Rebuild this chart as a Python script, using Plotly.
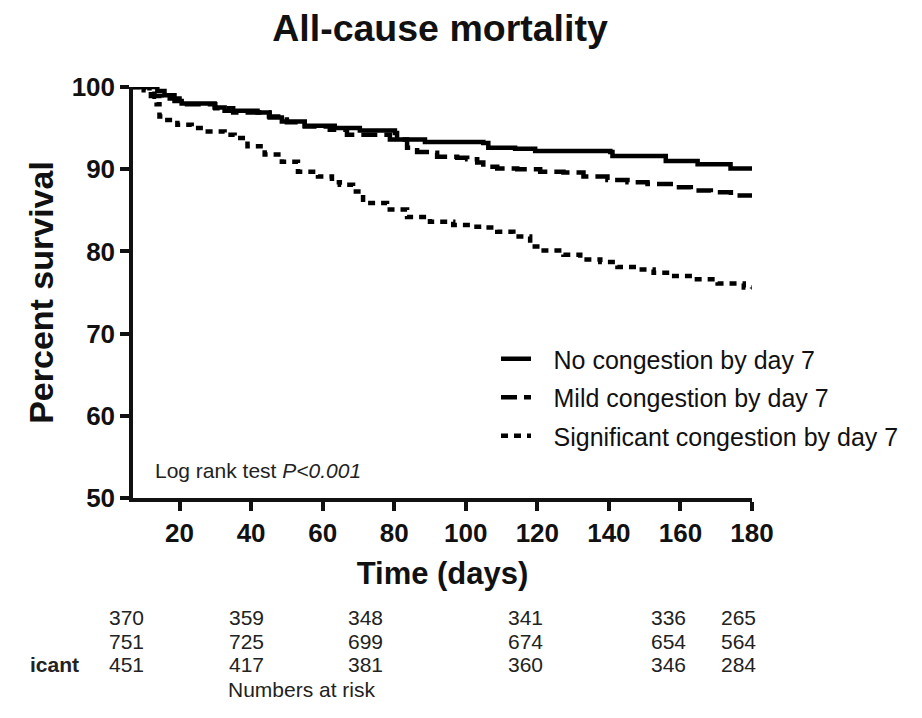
import plotly.graph_objects as go

# ---- data ----
days_none = [7, 11.6, 13.8, 15.8, 18.6, 20.6, 29.8, 32.6, 41.8, 45.2, 48.6, 55, 63.4, 70.4, 80.2,
             80.8, 88.6, 104.9, 106.3, 113.8, 119.4, 140.4, 141, 155.9, 164.8, 174, 180]
surv_none = [100, 100, 99.5, 99.0, 98.3, 98.0, 97.5, 97.1, 96.9, 96.3, 95.8, 95.3, 95.0, 94.7, 94.4,
             93.6, 93.3, 93.2, 92.6, 92.5, 92.2, 92.1, 91.6, 91.0, 90.6, 90.1, 90.0]

days_mild = [7, 10, 12, 15, 20, 30, 35, 45, 50, 55, 62, 66.8, 71.3, 78.8, 83.6, 86.4, 90, 92, 97.6,
             100.4, 103.2, 104.9, 108.8, 114.4, 120.8, 127.3, 132.9, 139.6, 145.2, 150.8, 157.3,
             162.9, 168.5, 174.1, 180]
surv_mild = [100, 99.6, 98.9, 98.6, 97.9, 97.4, 96.9, 96.4, 95.7, 95.2, 94.8, 94.2, 94.2, 93.6, 92.6,
             92.1, 92.0, 91.5, 91.4, 91.2, 90.8, 90.3, 90.1, 90.0, 89.7, 89.6, 89.1, 88.7, 88.4,
             88.2, 87.8, 87.4, 87.2, 86.8, 86.4]

days_sig = [7, 11.6, 13, 13.6, 14.4, 16.6, 19.4, 23.4, 27.9, 32.6, 35.4, 39.0, 43.8, 48.6, 53.1,
            58.7, 62.6, 64.8, 68.5, 71.3, 78, 83.6, 90, 96.5, 101.2, 104.9, 108.8, 113.3, 118,
            120.8, 127.3, 132, 137.6, 142.4, 148, 152.5, 157.3, 163.7, 170.4, 177.7, 180]
surv_sig = [100, 99.5, 98.8, 97.9, 96.4, 96.0, 95.4, 95.0, 94.6, 94.2, 93.8, 92.8, 91.8, 90.9, 89.7,
            89.1, 88.4, 88.1, 87.3, 85.9, 85.1, 84.2, 83.6, 83.2, 83.0, 82.9, 82.4, 81.8, 80.6,
            80.1, 79.6, 79.0, 78.7, 78.1, 77.8, 77.4, 77.0, 76.6, 76.1, 75.6, 75.5]

series_names = ["No congestion by day 7", "Mild congestion by day 7", "Significant congestion by day 7"]

risk_days = [5.2, 38.8, 72.1, 116.6, 156.7, 176.3]
risk_none = [370, 359, 348, 341, 336, 265]
risk_mild = [751, 725, 699, 674, 654, 564]
risk_sig = [451, 417, 381, 360, 346, 284]

x_ticks = [20, 40, 60, 80, 100, 120, 140, 160, 180]
y_ticks = [50, 60, 70, 80, 90, 100]
x_range = [7, 180]
y_range = [50, 100]

# ---- figure ----
W, H = 922, 718
ML, MR, MT, MB = 133, 170, 87, 220
PW = W - ML - MR
PH = H - MT - MB

def py(p):
    return (H - MB - p) / PH

def px(p):
    return (p - ML) / PW

def day_to_paper(d):
    return (d - x_range[0]) / (x_range[1] - x_range[0])

fig = go.Figure()
dashes = ["solid", "16px,7px", "7px,6px"]
for name, xs, ys, dsh, g in zip(series_names, [days_none, days_mild, days_sig],
                                [surv_none, surv_mild, surv_sig], dashes, ["a", "b", "c"]):
    fig.add_trace(go.Scatter(x=xs, y=ys, mode="lines", name="\u2002\u2009" + name, legendgroup=g,
                             line=dict(color="black", width=4.5, shape="hv", dash=dsh)))

font = "Liberation Sans, Arial, sans-serif"
anns = []
for row, vals in zip([617, 641, 664], [risk_none, risk_mild, risk_sig]):
    for d, v in zip(risk_days, vals):
        anns.append(dict(x=day_to_paper(d), xref="paper", y=py(row), yref="paper", text=str(v),
                         showarrow=False, xanchor="center", yanchor="middle",
                         font=dict(size=21, color="#222", family=font)))
anns.append(dict(x=px(81), xref="paper", y=py(664), yref="paper", text="<b>icant</b>",
                 showarrow=False, xanchor="right", yanchor="middle",
                 font=dict(size=21, color="#222", family=font)))
anns.append(dict(x=px(226), xref="paper", y=py(689), yref="paper",
                 text="Numbers at risk", showarrow=False, xanchor="left", yanchor="middle",
                 font=dict(size=21, color="#222", family=font)))
anns.append(dict(x=px(153), xref="paper", y=py(470), yref="paper",
                 text="Log rank test <i>P&lt;0.001</i>", showarrow=False, xanchor="left", yanchor="middle",
                 font=dict(size=21, color="#222", family=font)))

fig.update_layout(
    width=W, height=H,
    margin=dict(l=ML, r=MR, t=MT, b=MB),
    paper_bgcolor="white", plot_bgcolor="white",
    font=dict(family=font, color="#111"),
    title=dict(text="<b>All-cause mortality</b>", x=440 / W, xanchor="center",
               y=1 - 28 / H, yanchor="middle", font=dict(size=37.5, color="#111", family=font)),
    xaxis=dict(range=x_range, tickvals=x_ticks, ticks="outside", ticklen=9, tickwidth=3.5,
               tickcolor="#111", showline=True, linewidth=3.5, linecolor="#111", showgrid=False,
               zeroline=False, tickfont=dict(size=26, family=font, color="#111", weight="bold"),
               title=dict(text="<b>Time (days)</b>", font=dict(size=31, family=font, color="#111"),
                          standoff=16)),
    yaxis=dict(range=y_range, tickvals=y_ticks, ticks="outside", ticklen=9, tickwidth=3.5,
               tickcolor="#111", showline=True, linewidth=3.5, linecolor="#111", showgrid=False,
               zeroline=False, tickfont=dict(size=26, family=font, color="#111", weight="bold"),
               title=dict(text="<b>Percent survival</b>", font=dict(size=34, family=font, color="#111"),
                          standoff=9)),
    showlegend=True,
    legend=dict(x=px(496), xanchor="left", y=py(336), yanchor="top",
                font=dict(size=25, family=font, color="#111"), bgcolor="rgba(0,0,0,0)",
                tracegroupgap=3, itemwidth=30),
    annotations=anns,
)

fig.write_html("out.html")
